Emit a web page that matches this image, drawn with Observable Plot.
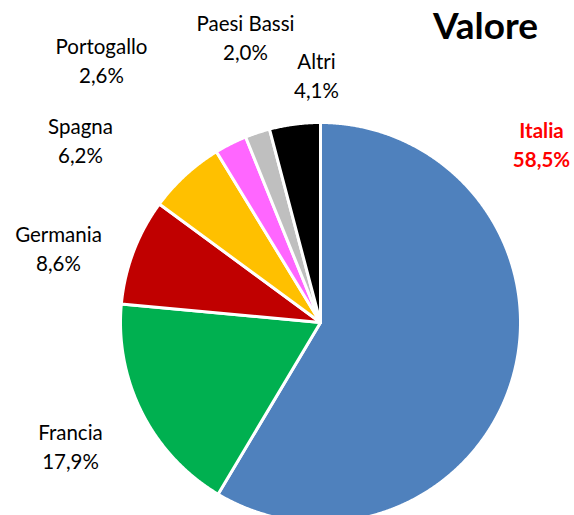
<!DOCTYPE html>
<html>
<head>
<meta charset="utf-8">
<script src="https://cdn.jsdelivr.net/npm/d3@7"></script>
<script src="https://cdn.jsdelivr.net/npm/@observablehq/plot@0.6"></script>
<style>
  html, body { margin: 0; padding: 0; background: #fff; overflow: hidden; }
</style>
</head>
<body>
<div id="chart"></div>
<script>
// Data
const countries = ["Italia", "Francia", "Germania", "Spagna", "Portogallo", "Paesi Bassi", "Altri"];
const shares = [58.5, 17.9, 8.6, 6.2, 2.6, 2.0, 4.1];
const labels = ["58,5%", "17,9%", "8,6%", "6,2%", "2,6%", "2,0%", "4,1%"];
const title = "Valore";

// Styles / layout
const sliceColors = ["#4F81BD", "#00B050", "#C00000", "#FFC000", "#FF66FF", "#BFBFBF", "#000000"];
const labelPos = {
  "Italia": [541, 143],
  "Francia": [70, 445],
  "Germania": [58, 247],
  "Spagna": [80, 139],
  "Portogallo": [101, 59],
  "Paesi Bassi": [245, 36],
  "Altri": [316, 74]
};
const cx = 320, cy = 322, r = 200;
const W = 574, H = 515;

const arcs = d3.pie().sort(null).value(d => d)(shares);
const polys = [];
arcs.forEach((a, i) => {
  const name = countries[i];
  polys.push({name, color: sliceColors[i], x: cx, y: cy});
  const n = Math.max(2, Math.ceil((a.endAngle - a.startAngle) / 0.005));
  for (let k = 0; k <= n; k++) {
    const t = a.startAngle + (a.endAngle - a.startAngle) * k / n;
    polys.push({name, color: sliceColors[i], x: cx + r * Math.sin(t), y: cy - r * Math.cos(t)});
  }
  polys.push({name, color: sliceColors[i], x: cx, y: cy});
});

const labelData = countries.map((c, i) => ({
  name: c, text: c + "\n" + labels[i], x: labelPos[c][0], y: labelPos[c][1]
}));

const chart = Plot.plot({
  width: W, height: H,
  margin: 0,
  x: {domain: [0, W], range: [0, W], axis: null},
  y: {domain: [0, H], range: [0, H], axis: null},
  color: {type: "identity"},
  style: {fontFamily: "Lato, sans-serif", background: "white"},
  marks: [
    Plot.line(polys, {x: "x", y: "y", z: "name", fill: "color", stroke: "white", strokeWidth: 3, strokeLinejoin: "round", curve: "linear"}),
    Plot.text(labelData.filter(d => d.name !== "Italia"), {x: "x", y: "y", text: "text", fontSize: 20.5, lineHeight: 1.42, fill: "#000", textAnchor: "middle", lineAnchor: "middle"}),
    Plot.text(labelData.filter(d => d.name === "Italia"), {x: "x", y: "y", text: "text", fontSize: 20.5, fontWeight: "bold", lineHeight: 1.42, fill: "#FF0000", textAnchor: "middle", lineAnchor: "middle"}),
    Plot.text([title], {x: () => 485, y: () => 27, text: d => d, fontSize: 37, fontWeight: "bold", fill: "#000", textAnchor: "middle", lineAnchor: "middle"})
  ]
});
document.getElementById("chart").appendChild(chart);
</script>
</body>
</html>
